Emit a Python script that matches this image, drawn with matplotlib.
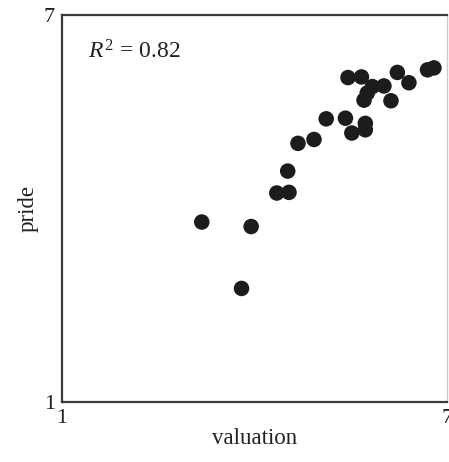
import matplotlib
matplotlib.use("Agg")
import matplotlib.pyplot as plt

# values
valuation = [3.18, 3.95, 3.80, 4.35, 4.54, 4.52, 4.68, 4.93, 5.12, 5.42, 5.52, 5.73,
             5.73, 5.46, 5.67, 5.84, 5.76, 5.71, 6.02, 6.23, 6.41, 6.13, 6.70, 6.80]
pride = [3.79, 3.72, 2.76, 4.24, 4.25, 4.58, 5.01, 5.07, 5.39, 5.40, 5.17, 5.32,
         5.22, 6.03, 6.04, 5.89, 5.79, 5.68, 5.90, 6.11, 5.95, 5.67, 6.15, 6.18]
r_squared = 0.82
axis_ticks = [1, 7]

plt.rcParams['font.family'] = ['Liberation Serif', 'DejaVu Serif']
plt.rcParams['mathtext.fontset'] = 'custom'
plt.rcParams['mathtext.rm'] = 'Liberation Serif'
plt.rcParams['mathtext.it'] = 'Liberation Serif:italic'

fig = plt.figure(figsize=(4.49, 4.62), dpi=100)
ax = fig.add_axes([0.138, 0.130, 0.857, 0.8375])

ax.scatter(valuation, pride, s=125, color='#1c1c1c', edgecolors='none', zorder=3)

ax.set_xlim(1, 7)
ax.set_ylim(1, 7)
ax.set_xticks(axis_ticks)
ax.set_yticks(axis_ticks)
ax.tick_params(length=0, labelsize=16, colors='#222222', pad=5)

for side in ['left', 'top', 'bottom']:
    ax.spines[side].set_color('#3a3a3a')
    ax.spines[side].set_linewidth(1.6)
ax.spines['right'].set_color('#cccccc')
ax.spines['right'].set_linewidth(1.0)

ax.set_xlabel('valuation', fontsize=16.5, color='#222222', labelpad=0)
ax.set_ylabel('pride', fontsize=16.5, color='#222222', labelpad=4)

ax.text(0.068, 0.905, r'$R^2\,=\,%.2f$' % r_squared, transform=ax.transAxes,
        fontsize=17, color='#222222', va='center', ha='left')

fig.savefig('out.png', dpi=100)
